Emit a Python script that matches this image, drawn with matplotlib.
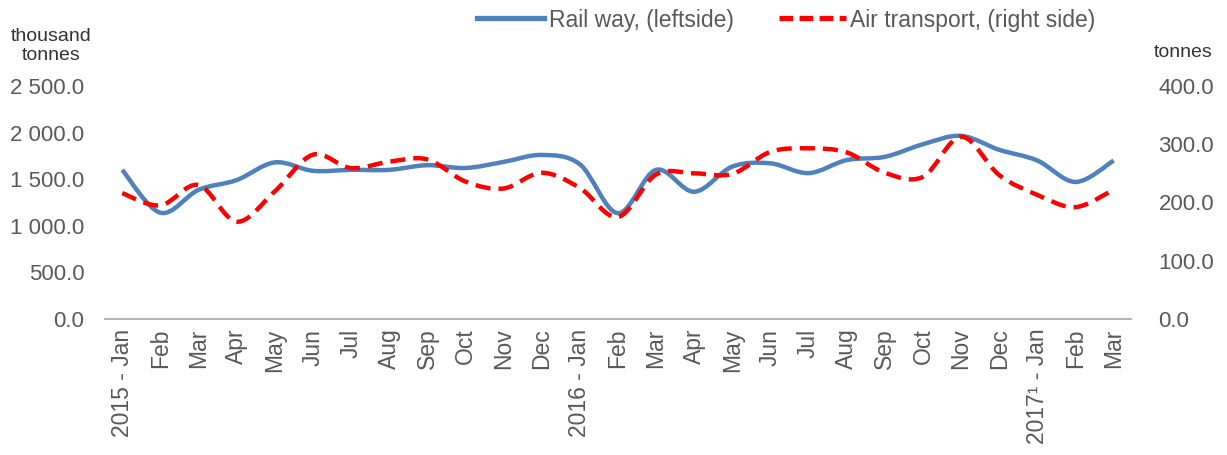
import matplotlib

matplotlib.use('Agg')
import matplotlib.pyplot as plt
import numpy as np
from matplotlib.path import Path
from matplotlib.patches import PathPatch
from matplotlib.lines import Line2D
from matplotlib.ticker import FuncFormatter

matplotlib.rcParams['font.family'] = ['Liberation Sans', 'DejaVu Sans']

GREY = '#595959'

months = ['2015 - Jan', 'Feb', 'Mar', 'Apr', 'May', 'Jun', 'Jul', 'Aug', 'Sep',
          'Oct', 'Nov', 'Dec', '2016 - Jan', 'Feb', 'Mar', 'Apr', 'May', 'Jun',
          'Jul', 'Aug', 'Sep', 'Oct', 'Nov', 'Dec', '2017\u00b9 - Jan', 'Feb', 'Mar']

# thousand tonnes (left axis)
rail = [1600, 1140, 1385, 1490, 1680, 1590, 1600, 1600, 1650, 1620, 1685, 1760,
        1660, 1135, 1600, 1365, 1635, 1670, 1565, 1705, 1740, 1875, 1965, 1815,
        1700, 1470, 1700]
# tonnes (right axis)
air = [216, 195, 230, 167, 219, 282, 259, 270, 274, 236, 224, 251,
       225, 175, 248, 250, 249, 287, 293, 286, 251, 244, 313, 247,
       213, 192, 222]


def smooth_path(xs, ys):
    # cubic bezier through every point (Catmull-Rom style, like a smoothed office chart)
    p = np.column_stack([xs, ys]).astype(float)
    n = len(p)
    verts = [p[0]]
    codes = [Path.MOVETO]
    for i in range(n - 1):
        p0 = p[max(i - 1, 0)]
        p1 = p[i]
        p2 = p[i + 1]
        p3 = p[min(i + 2, n - 1)]
        c1 = p1 + (p2 - p0) / 6.0
        c2 = p2 - (p3 - p1) / 6.0
        verts += [c1, c2, p2]
        codes += [Path.CURVE4] * 3
    return Path(verts, codes)


x = np.arange(len(months))

fig = plt.figure(figsize=(12.27, 4.55), dpi=100)
ax = fig.add_axes([0.0856, 0.299, 0.836, 0.512])
ax2 = ax.twinx()

ax.set_xlim(-0.45, len(months) - 0.55)
ax.set_ylim(0, 2500)
ax2.set_ylim(0, 400)

rail_color = '#4F81BD'
ax.add_patch(PathPatch(smooth_path(x, rail), fill=False, edgecolor=rail_color,
                       linewidth=3.2, capstyle='butt', joinstyle='round'))
ax2.add_patch(PathPatch(smooth_path(x, air), fill=False, edgecolor='#FF0000',
                        linewidth=3.2, linestyle=(0, (3.4, 1.8)), capstyle='butt'))

for a in (ax, ax2):
    for s in a.spines.values():
        s.set_visible(False)
    a.tick_params(length=0)
ax.spines['bottom'].set_visible(True)
ax.spines['bottom'].set_color('#A6A6A6')
ax.spines['bottom'].set_linewidth(1.2)

ax.set_yticks(np.arange(0, 2501, 500))
ax.yaxis.set_major_formatter(FuncFormatter(lambda v, p: f'{v:,.1f}'.replace(',', ' ')))
ax2.set_yticks(np.arange(0, 401, 100))
ax2.yaxis.set_major_formatter(FuncFormatter(lambda v, p: f'{v:.1f}'))
for lab in ax.get_yticklabels() + ax2.get_yticklabels():
    lab.set_fontsize(16)
    lab.set_color(GREY)
ax.tick_params(axis='y', pad=15)
ax2.tick_params(axis='y', pad=20)

ax.set_xticks(x)
ax.set_xticklabels(months, rotation=90, fontsize=16.5, color=GREY)
ax.tick_params(axis='x', pad=7)

fig.text(0.042, 0.898, 'thousand\ntonnes', ha='center', va='center', fontsize=14,
         color='#333333', linespacing=1.15)
fig.text(0.964, 0.884, 'tonnes', ha='center', va='center', fontsize=14,
         color='#333333')

handles = [Line2D([], [], color=rail_color, linewidth=3.8),
           Line2D([], [], color='#FF0000', linewidth=3.8, linestyle=(0, (2.6, 1.2)))]
leg = fig.legend(handles, ['Rail way, (leftside)', 'Air transport, (right side)'],
                 loc='center', bbox_to_anchor=(0.641, 0.956), ncol=2, frameon=False,
                 prop={'size': 16.5}, handlelength=2.9,
                 handletextpad=0.2, columnspacing=2.0, labelcolor=GREY)

fig.savefig('out.png', dpi=100)
